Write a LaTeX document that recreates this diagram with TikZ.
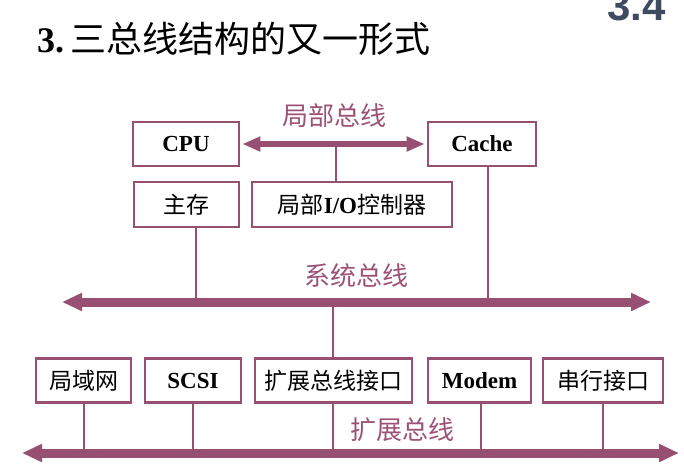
\documentclass[tikz,border=0pt]{standalone}
\usepackage{fontspec}
\setmainfont{Liberation Serif}
\newfontfamily\cjk{Noto Sans CJK SC}
\newfontfamily\hdsans{Liberation Sans}
\usetikzlibrary{arrows.meta}
\definecolor{busc}{RGB}{152,80,114}
\definecolor{labc}{RGB}{156,82,118}
\definecolor{numc}{RGB}{62,75,96}
\tikzset{
  unitbox/.style={draw=busc, line width=2.6pt, fill=white, inner sep=0pt, minimum height=44pt, font=\fontsize{23}{26}\selectfont},
  busline/.style={draw=busc, line width=9pt, {Triangle[length=20pt,width=17pt]}-{Triangle[length=20pt,width=17pt]}},
  localbus/.style={draw=busc, line width=6pt, {Triangle[length=18pt,width=14pt]}-{Triangle[length=18pt,width=14pt]}},
  tap/.style={draw=busc, line width=2.6pt},
  buslabel/.style={text=labc, font=\cjk\fontsize{26}{28}\selectfont, inner sep=0pt},
}
\begin{document}
\begin{tikzpicture}[x=1pt,y=-1pt]
\path[use as bounding box] (0,0) rectangle (684,475);
\clip (0,0) rectangle (684,475);
% title
\node[anchor=base west, inner sep=0pt, font=\fontsize{36}{40}\selectfont] (title) at (37,52) {\textbf{3.}\,{\cjk 三总线结构的又一形式}};
\node[anchor=base east, inner sep=0pt, text=numc, font=\hdsans\bfseries\fontsize{42}{44}\selectfont] (num) at (666,20) {3.4};
% upper boxes
\node[unitbox, minimum width=106pt] (cpu) at (186,144) {\textbf{CPU}};
\node[unitbox, minimum width=108pt] (cache) at (482,144) {\textbf{Cache}};
\node[unitbox, minimum width=105pt, minimum height=45pt] (mem) at (186.5,204.5) {\cjk 主存};
\node[unitbox, minimum width=200pt, minimum height=45pt] (io) at (352,204.5) {{\cjk 局部}\textbf{I/O}{\cjk 控制器}};
% lower boxes
\node[unitbox, minimum width=95pt] (lan) at (83.5,380.5) {\cjk 局域网};
\node[unitbox, minimum width=96pt] (scsi) at (193,380.5) {\textbf{SCSI}};
\node[unitbox, minimum width=157pt] (ext) at (333.5,380.5) {\cjk 扩展总线接口};
\node[unitbox, minimum width=103pt] (modem) at (479.5,380.5) {\textbf{Modem}};
\node[unitbox, minimum width=120pt] (serial) at (603,380.5) {\cjk 串行接口};
% bus end points
\coordinate (sysL) at (62,302);
\coordinate (sysR) at (651,302);
\coordinate (extL) at (22,453);
\coordinate (extR) at (679,453);
% local bus
\draw[localbus] ([xshift=2pt]cpu.east) -- ([xshift=-2pt]cache.west);
\coordinate (ltap) at (336,144);
\draw[tap] (ltap) -- (ltap |- io.north);
% taps to system bus
\coordinate (memtap) at (196,0);
\coordinate (cachetap) at (488,0);
\coordinate (systap) at (333,0);
\draw[tap] (memtap |- mem.south) -- (memtap |- sysL);
\draw[tap] (cachetap |- cache.south) -- (cachetap |- sysL);
\draw[tap] (systap |- sysL) -- (systap |- ext.north);
% taps to expansion bus
\coordinate (t1) at (84,0);
\coordinate (t2) at (193,0);
\coordinate (t3) at (333,0);
\coordinate (t4) at (481,0);
\coordinate (t5) at (603,0);
\draw[tap] (t1 |- lan.south) -- (t1 |- extL);
\draw[tap] (t2 |- scsi.south) -- (t2 |- extL);
\draw[tap] (t3 |- ext.south) -- (t3 |- extL);
\draw[tap] (t4 |- modem.south) -- (t4 |- extL);
\draw[tap] (t5 |- serial.south) -- (t5 |- extL);
% buses
\draw[busline] (sysL) -- (sysR);
\draw[busline] (extL) -- (extR);
% labels
\node[buslabel] (lbl1) at (334,116) {局部总线};
\node[buslabel] (lbl2) at (356,276) {系统总线};
\node[buslabel] (lbl3) at (402,430) {扩展总线};
\end{tikzpicture}
\end{document}
